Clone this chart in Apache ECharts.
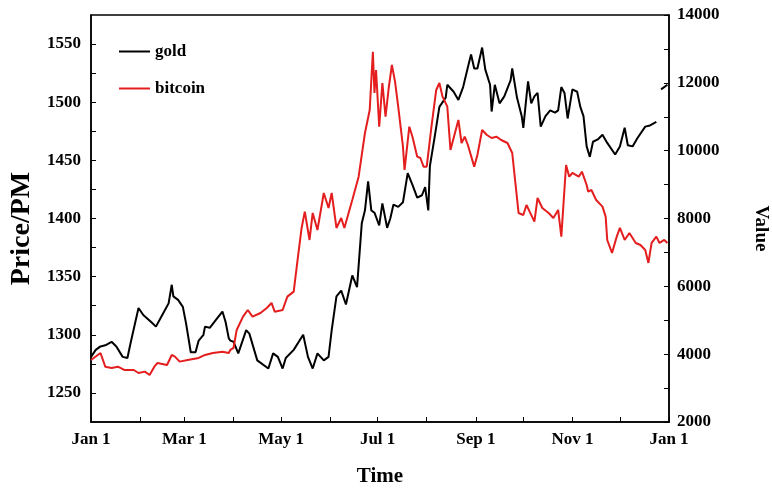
<!DOCTYPE html>
<html>
<head>
<meta charset="utf-8">
<script src="https://cdn.jsdelivr.net/npm/echarts@6/dist/echarts.min.js"></script>
<style>
  html, body { margin: 0; padding: 0; background: #fff; }
  #chart { width: 772px; height: 491px; }
</style>
</head>
<body>
<div id="chart"></div>
<script>
const YEAR = "2019-";

const goldDates = [
  "01-01","01-04","01-07","01-10","01-14","01-17","01-21","01-24","01-26","01-31",
  "02-03","02-08","02-11","02-15","02-19","02-21","02-22","02-25","02-28","03-02",
  "03-05","03-08","03-10","03-13","03-14","03-17","03-21","03-25","03-27","03-29",
  "03-30","04-01","04-04","04-09","04-11","04-16","04-23","04-26","04-29","05-02",
  "05-04","05-09","05-15","05-18","05-21","05-24","05-28","05-31","06-02","06-05",
  "06-08","06-11","06-15","06-18","06-21","06-23","06-25","06-27","06-29","07-02",
  "07-04","07-07","07-09","07-11","07-14","07-17","07-20","07-23","07-26","07-29",
  "07-31","08-02","08-03","08-06","08-09","08-13","08-14","08-18","08-21","08-24",
  "08-27","08-29","08-31","09-02","09-05","09-07","09-10","09-11","09-13","09-16",
  "09-19","09-23","09-24","09-27","09-30","10-01","10-03","10-04","10-06","10-08",
  "10-10","10-12","10-15","10-18","10-21","10-23","10-25","10-27","10-29","11-01",
  "11-04","11-06","11-08","11-10","11-12","11-14","11-17","11-20","11-23","11-28",
  "12-01","12-04","12-06","12-09","12-12","12-17","12-20","12-24","12-25","12-27",
  "12-31"
];
const goldPrices = [
  1281,1287,1290,1291,1294,1290,1281,1280,1293,1323,
  1317,1311,1307,1317,1327,1343,1333,1330,1324,1310,
  1285,1285,1295,1300,1307,1306,1313,1320,1311,1297,
  1295,1294,1284,1304,1301,1278,1271,1284,1281,1271,
  1280,1287,1300,1281,1271,1284,1278,1281,1304,1333,
  1338,1326,1351,1341,1396,1407,1432,1407,1405,1394,
  1413,1392,1400,1412,1410,1414,1439,1429,1418,1420,
  1427,1407,1445,1470,1496,1504,1515,1509,1502,1513,
  1530,1541,1529,1529,1547,1528,1515,1492,1515,1499,
  1505,1519,1529,1504,1488,1478,1505,1518,1499,1505,
  1508,1479,1488,1493,1491,1493,1513,1508,1486,1511,
  1509,1496,1488,1462,1453,1466,1468,1472,1465,1455,
  1462,1478,1463,1462,1469,1479,1480,1483,null,1511,
  1515
];

const btcDates = [
  "01-01","01-07","01-10","01-14","01-18","01-22","01-28","01-31","02-04","02-07",
  "02-10","02-12","02-18","02-21","02-23","02-26","03-03","03-10","03-14","03-19",
  "03-25","03-29","03-30","04-01","04-03","04-07","04-10","04-13","04-18","04-22",
  "04-25","04-27","05-02","05-05","05-09","05-12","05-14","05-16","05-19","05-21",
  "05-24","05-28","05-31","06-02","06-05","06-08","06-10","06-15","06-19","06-23",
  "06-26","06-28","06-29","06-30","07-02","07-04","07-06","07-08","07-10","07-12",
  "07-14","07-17","07-18","07-21","07-23","07-26","07-28","07-30","08-01","08-04",
  "08-07","08-09","08-11","08-14","08-16","08-18","08-21","08-23","08-25","08-27",
  "08-31","09-02","09-05","09-08","09-11","09-14","09-17","09-21","09-24","09-26",
  "09-28","10-01","10-03","10-05","10-08","10-10","10-13","10-17","10-20","10-23",
  "10-25","10-28","10-30","11-01","11-05","11-07","11-10","11-11","11-13","11-16",
  "11-20","11-22","11-23","11-26","11-29","12-01","12-04","12-07","12-11","12-14",
  "12-17","12-19","12-21","12-24","12-26","12-29","12-31"
];
const btcValues = [
  3829,4035,3632,3593,3632,3534,3534,3445,3485,3387,
  3632,3741,3682,3977,3927,3780,3829,3888,3977,4035,
  4074,4035,4124,4183,4714,5106,5303,5106,5213,5362,
  5510,5253,5303,5696,5844,6984,7721,8201,7367,8163,
  7662,8752,8310,8752,7721,8016,7721,8546,9233,10521,
  11199,12918,11700,12379,10707,11995,11002,11848,12526,12034,
  11297,10117,9431,10707,10412,9823,9784,9529,9529,10707,
  11789,11995,11592,11297,10020,10374,10904,10226,10412,10167,
  9529,9873,10609,10462,10374,10412,10315,10226,9932,9047,
  8163,8104,8399,8201,7907,8605,8310,8163,8016,8251,
  7465,9578,9233,9342,9233,9381,8988,8791,8841,8546,
  8349,8054,7367,6984,7465,7721,7367,7573,7279,7220,
  7072,6689,7279,7465,7279,7367,7279
];

const monthTicks = [
  "2019-01-01","2019-02-01","2019-03-01","2019-04-01","2019-05-01","2019-06-01","2019-07-01",
  "2019-08-01","2019-09-01","2019-10-01","2019-11-01","2019-12-01","2020-01-01"
];
const monthLabels = ["2019-01-01","2019-03-01","2019-05-01","2019-07-01","2019-09-01","2019-11-01","2020-01-01"];
const MONTH_NAMES = ["Jan","Feb","Mar","Apr","May","Jun","Jul","Aug","Sep","Oct","Nov","Dec"];
const priceTicks = [1250,1275,1300,1325,1350,1375,1400,1425,1450,1475,1500,1525,1550];
const priceLabels = [1250,1300,1350,1400,1450,1500,1550];

const FONT = "'Liberation Serif', 'Times New Roman', serif";
// dates as local-midnight timestamps on a plain value axis
const toTime = (s) => new Date(s + "T00:00:00").getTime();

const chart = echarts.init(document.getElementById("chart"));

const axisLine = { show: true, lineStyle: { color: "#000", width: 1.5 } };
const labelStyle = {
  color: "#000", fontFamily: FONT, fontWeight: "bold", fontSize: 17,
  formatter: (v) => String(v),
};

chart.setOption({
  animation: false,
  grid: {
    left: 91, right: 103, top: 15, bottom: 69,
    outerBoundsMode: "none",
    show: true, borderColor: "#000", borderWidth: 1.5,
  },
  legend: {
    orient: "vertical",
    left: 119, top: 43,
    icon: "rect",
    itemWidth: 31, itemHeight: 2,
    itemGap: 20,
    padding: 0,
    data: ["gold", "bitcoin"],
    textStyle: { color: "#000", fontFamily: FONT, fontWeight: "bold", fontSize: 17 },
  },
  xAxis: {
    type: "value",
    min: toTime("2019-01-01"),
    max: toTime("2020-01-01"),
    name: "Time",
    nameLocation: "middle",
    nameGap: 44,
    nameTextStyle: { color: "#000", fontFamily: FONT, fontWeight: "bold", fontSize: 21 },
    axisLine,
    axisTick: { inside: true, length: 5, lineStyle: { color: "#000" }, customValues: monthTicks.map(toTime) },
    axisLabel: {
      ...labelStyle,
      margin: 9,
      customValues: monthLabels.map(toTime),
      formatter: (v) => {
        const d = new Date(v);
        return MONTH_NAMES[d.getMonth()] + " " + d.getDate();
      },
    },
    splitLine: { show: false },
  },
  yAxis: [
    {
      type: "value",
      min: 1225,
      max: 1575,
      name: "Price/PM",
      nameLocation: "middle",
      nameGap: 42,
      nameTextStyle: {
        color: "#000", fontFamily: FONT, fontWeight: "bold", fontSize: 28,
        padding: [0, 20, 0, 0],
      },
      axisLine,
      axisTick: { inside: true, length: 5, lineStyle: { color: "#000" }, customValues: priceTicks },
      axisLabel: { ...labelStyle, margin: 10, customValues: priceLabels },
      splitLine: { show: false },
    },
    {
      type: "value",
      min: 2000,
      max: 14000,
      interval: 2000,
      position: "right",
      name: "Value",
      nameLocation: "middle",
      nameRotate: -90,
      nameGap: 82,
      nameTextStyle: {
        color: "#000", fontFamily: FONT, fontWeight: "bold", fontSize: 19,
        padding: [0, 0, 0, 20],
      },
      axisLine,
      axisTick: { inside: true, length: 5, lineStyle: { color: "#000" } },
      minorTick: { show: true, splitNumber: 2, length: 5, lineStyle: { color: "#000" } },
      axisLabel: { ...labelStyle, margin: 8 },
      splitLine: { show: false },
    },
  ],
  series: [
    {
      name: "gold",
      type: "line",
      yAxisIndex: 0,
      data: goldDates.map((d, i) => [toTime(YEAR + d), goldPrices[i]]),
      showSymbol: false,
      connectNulls: false,
      lineStyle: { color: "#000", width: 2 },
      itemStyle: { color: "#000" },
    },
    {
      name: "bitcoin",
      type: "line",
      yAxisIndex: 1,
      data: btcDates.map((d, i) => [toTime(YEAR + d), btcValues[i]]),
      showSymbol: false,
      lineStyle: { color: "#e41e1e", width: 2 },
      itemStyle: { color: "#e41e1e" },
    },
  ],
});
</script>
</body>
</html>
